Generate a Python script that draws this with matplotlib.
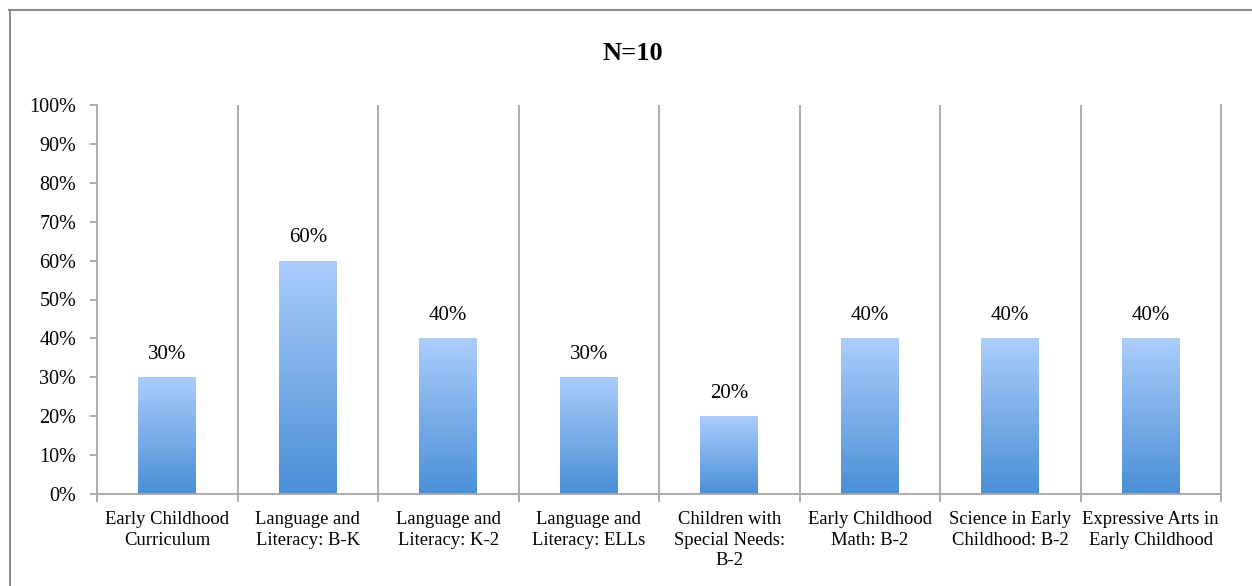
import numpy as np
import matplotlib
matplotlib.use("Agg")
import matplotlib.pyplot as plt
from matplotlib.colors import LinearSegmentedColormap
from matplotlib.lines import Line2D

categories = [
    "Early Childhood\nCurriculum",
    "Language and\nLiteracy: B-K",
    "Language and\nLiteracy: K-2",
    "Language and\nLiteracy: ELLs",
    "Children with\nSpecial Needs:\nB-2",
    "Early Childhood\nMath: B-2",
    "Science in Early\nChildhood: B-2",
    "Expressive Arts in\nEarly Childhood",
]
values = [30, 60, 40, 30, 20, 40, 40, 40]
yticks = [0, 10, 20, 30, 40, 50, 60, 70, 80, 90, 100]

plt.rcParams["font.family"] = ["Liberation Serif", "DejaVu Serif"]

fig = plt.figure(figsize=(12.52, 5.86), dpi=100)
ax = fig.add_axes([97 / 1252, 92 / 586, 1124 / 1252, 389 / 586])

grid_c = "#a6a6a6"
cmap = LinearSegmentedColormap.from_list("bar", ["#4a8fd6", "#abcdfc"])
grad = np.linspace(0, 1, 256).reshape(-1, 1)

x = np.arange(len(categories))
width = 0.41
bars = ax.bar(x, values, width=width, color="none", edgecolor="none")
for b, v in zip(bars, values):
    x0, y0 = b.get_x(), b.get_y()
    im = ax.imshow(grad, cmap=cmap, origin="lower", aspect="auto",
                   extent=[x0, x0 + b.get_width(), y0, y0 + b.get_height()],
                   zorder=2)
    im.set_clip_path(b)
    ax.text(b.get_x() + b.get_width() / 2, v + 3.4, f"{v}%", ha="center",
            va="bottom", fontsize=15)

ax.set_xlim(-0.5, len(categories) - 0.5)
ax.set_ylim(0, 100)
ax.set_yticks(yticks)
ax.set_yticklabels([f"{t}%" for t in yticks], fontsize=14.5)
ax.set_xticks(x)
ax.set_xticklabels(categories, fontsize=13.4, linespacing=1.3)
ax.tick_params(axis="x", length=0, pad=12)
ax.tick_params(axis="y", length=5, width=1.3, color=grid_c, pad=10)

# category separators
for sep in np.arange(-0.5, len(categories), 1):
    if -0.5 < sep < len(categories) - 0.5:
        ax.axvline(sep, color=grid_c, lw=1.3, zorder=1)
    ax.plot([sep, sep], [0, -0.018], transform=ax.get_xaxis_transform(),
            color=grid_c, lw=1.3, clip_on=False)

for s in ["left", "right", "bottom"]:
    ax.spines[s].set_color(grid_c)
    ax.spines[s].set_linewidth(1.3)
ax.spines["top"].set_visible(False)

fig.text(633 / 1252, 1 - 53 / 586, "N=10", ha="center", va="center",
         fontsize=19, fontweight="bold")

# outer border (top and left visible)
fig.add_artist(Line2D([9 / 1252, 1.0], [1 - 9.5 / 586] * 2, color="#8c8c8c", lw=1.5))
fig.add_artist(Line2D([9.5 / 1252] * 2, [0, 1 - 9.5 / 586], color="#8c8c8c", lw=1.5))

fig.savefig("out.png", dpi=100)
